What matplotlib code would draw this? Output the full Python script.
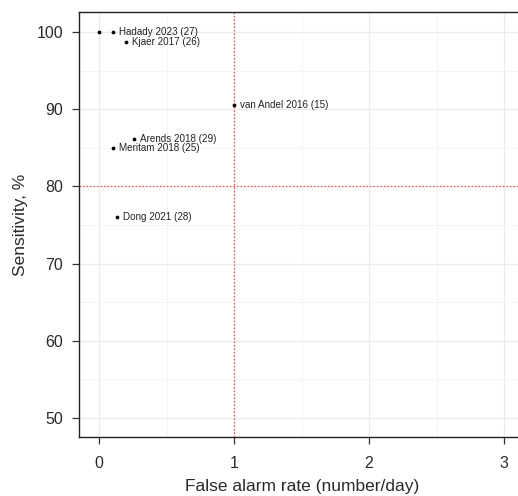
import matplotlib
matplotlib.use("Agg")
import matplotlib.pyplot as plt
from matplotlib.ticker import MultipleLocator

plt.rcParams['font.family'] = ['Liberation Sans', 'DejaVu Sans']

false_alarm = [0.0, 0.10, 0.20, 1.0, 0.26, 0.10, 0.13]
sensitivity = [100.0, 100.0, 98.7, 90.6, 86.1, 85.0, 76.0]
labels = ["", "Hadady 2023 (27)", "Kjaer 2017 (26)", "van Andel 2016 (15)",
          "Arends 2018 (29)", "Meritam 2018 (25)", "Dong 2021 (28)"]
x_ticks = [0, 1, 2, 3]
y_ticks = [50, 60, 70, 80, 90, 100]

fig = plt.figure(figsize=(5.18, 4.96), dpi=100)
ax = fig.add_axes([79.3/518, (496-436.7)/496, 445.5/518, (436.7-12.3)/496])
ax.set_xlim(-0.146, 3.154)
ax.set_ylim(47.58, 102.55)

ax.set_xticks(x_ticks)
ax.set_yticks(y_ticks)
ax.xaxis.set_minor_locator(MultipleLocator(0.5))
ax.yaxis.set_minor_locator(MultipleLocator(5))
ax.grid(which='major', color='#ebebeb', linewidth=0.9)
ax.grid(which='minor', color='#f3f3f3', linewidth=0.6)
ax.set_axisbelow(True)
ax.tick_params(which='minor', length=0)
ax.tick_params(which='major', length=5, width=0.9, color='#333333',
               labelsize=11.5, labelcolor='#2a2a2a')
ax.tick_params(axis='x', which='major', pad=9)
ax.tick_params(axis='y', which='major', pad=6.5)
for s in ax.spines.values():
    s.set_color('#222222')
    s.set_linewidth(1.0)

ax.axvline(1, color='#f05050', linestyle=(0, (1.2, 1.6)), linewidth=0.9)
ax.axhline(80, color='#f05050', linestyle=(0, (1.2, 1.6)), linewidth=0.9)

ax.plot(false_alarm, sensitivity, 'o', color='black', markersize=1.7, linestyle='none')
for x, y, t in zip(false_alarm, sensitivity, labels):
    if t:
        ax.annotate(t, (x, y), xytext=(4.5, 0), textcoords='offset points',
                    va='center', ha='left', fontsize=7.1, color='#222222')

ax.set_xlabel('False alarm rate (number/day)', fontsize=12.5, color='#2a2a2a', labelpad=5.5)
ax.set_ylabel('Sensitivity, %', fontsize=12.5, color='#2a2a2a', labelpad=6)

fig.savefig('out.png', dpi=100)
